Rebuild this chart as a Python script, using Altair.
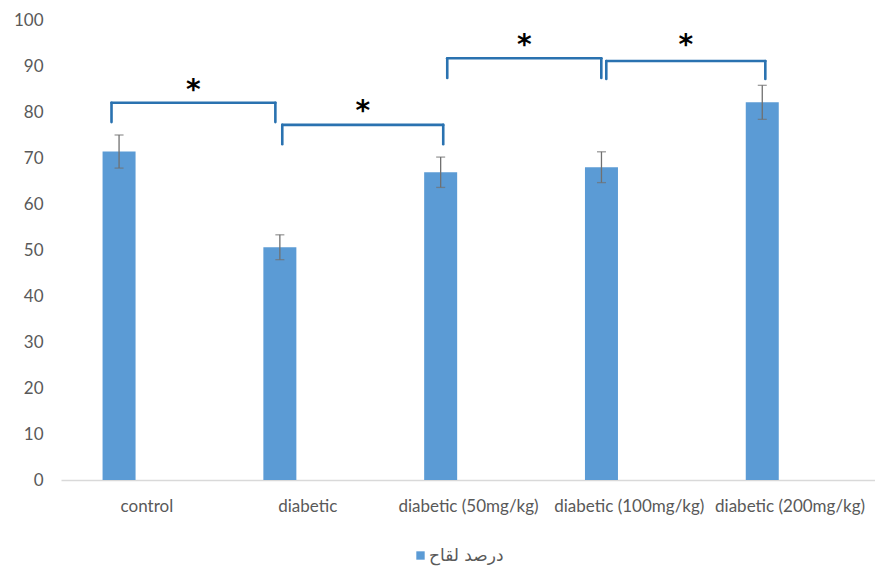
import altair as alt
import pandas as pd

# Groups and measured means with their error margins
groups = ["control", "diabetic", "diabetic (50mg/kg)", "diabetic (100mg/kg)", "diabetic (200mg/kg)"]
means = [71.4, 50.6, 66.9, 68.0, 82.1]
errors = [3.6, 2.7, 3.3, 3.35, 3.7]
series_name = "درصد لقاح"

# Significance brackets: left/right position on the category axis, top level and leg end
bracket_left = [-0.217, 0.845, 1.871, 2.860]
bracket_right = [0.802, 1.846, 2.829, 3.849]
bracket_top = [82.0, 77.2, 91.7, 91.1]
bracket_leg = [77.8, 73.0, 87.4, 87.2]
bracket_star = [85.8, 81.2, 95.6, 95.6]

BAR_SHIFT = -0.17   # bars sit a little left of their category label
BAR_COLOR = "#5b9bd5"
BRACKET_COLOR = "#2a72b0"
TEXT_COLOR = "#595959"
FONT = "Lato"

idx = list(range(len(groups)))
bars = pd.DataFrame({
    "pos": [i + BAR_SHIFT for i in idx],
    "group": groups,
    "mean": means,
    "lo": [m - e for m, e in zip(means, errors)],
    "hi": [m + e for m, e in zip(means, errors)],
    "series": [series_name] * len(groups),
})
brk = pd.DataFrame({
    "x0": bracket_left,
    "x1": bracket_right,
    "top": bracket_top,
    "leg": bracket_leg,
    "star": bracket_star,
    "mid": [(a + b) / 2 for a, b in zip(bracket_left, bracket_right)],
})

label_list = "[" + ",".join("'" + g + "'" for g in groups) + "]"
x_scale = alt.Scale(domain=[-0.5, len(groups) - 0.5], nice=False, zero=False)
y_scale = alt.Scale(domain=[0, 100], nice=False)

x_axis = alt.Axis(
    values=idx, labelExpr=label_list + "[datum.value]", title=None,
    ticks=False, grid=False, domain=True, domainColor="#d9d9d9", domainWidth=1.5,
    labelFlush=False, labelOverlap=False, labelFont=FONT, labelFontSize=17,
    labelColor=TEXT_COLOR, labelPadding=18,
)
y_axis = alt.Axis(
    values=list(range(0, 101, 10)), title=None, ticks=False, grid=False, domain=False,
    labelFont=FONT, labelFontSize=17, labelColor=TEXT_COLOR, labelPadding=18,
)

base = alt.Chart(bars)

bar_layer = base.mark_bar(width=33).encode(
    x=alt.X("pos:Q", scale=x_scale, axis=x_axis),
    y=alt.Y("mean:Q", scale=y_scale, axis=y_axis),
    color=alt.Color(
        "series:N",
        scale=alt.Scale(domain=[series_name], range=[BAR_COLOR]),
        legend=alt.Legend(
            title=None, orient="none", legendX=351, legendY=527,
            symbolType="square", symbolSize=70, symbolStrokeWidth=0,
            labelFont="DejaVu Sans", labelFontSize=17, labelColor=TEXT_COLOR,
            labelOffset=0,
        ),
    ),
)

err_rule = base.mark_rule(color="#707070", strokeWidth=1.3).encode(
    x="pos:Q", y="lo:Q", y2="hi:Q"
)
err_cap_hi = base.mark_tick(color="#707070", thickness=1.3, size=9, orient="horizontal").encode(
    x="pos:Q", y="hi:Q"
)
err_cap_lo = base.mark_tick(color="#707070", thickness=1.3, size=9, orient="horizontal").encode(
    x="pos:Q", y="lo:Q"
)

bchart = alt.Chart(brk)
stroke = dict(color=BRACKET_COLOR, strokeWidth=2.6, strokeCap="round")
b_top = bchart.mark_rule(**stroke).encode(x="x0:Q", x2="x1:Q", y="top:Q")
b_left = bchart.mark_rule(**stroke).encode(x="x0:Q", y="leg:Q", y2="top:Q")
b_right = bchart.mark_rule(**stroke).encode(x="x1:Q", y="leg:Q", y2="top:Q")
stars = bchart.mark_text(
    text="*", font="DejaVu Sans", fontSize=28, fontWeight="bold", color="#000000",
    baseline="middle", dy=6,
).encode(x="mid:Q", y="star:Q")

chart = alt.layer(
    bar_layer, err_rule, err_cap_hi, err_cap_lo, b_top, b_left, b_right, stars
).properties(
    width=814, height=460,
    autosize=alt.AutoSizeParams(type="none"),
    padding={"left": 61, "top": 20, "right": 0, "bottom": 95},
    background="white",
).configure_view(stroke=None)

chart.save("out.html", embed_options={"renderer": "svg", "actions": False})
